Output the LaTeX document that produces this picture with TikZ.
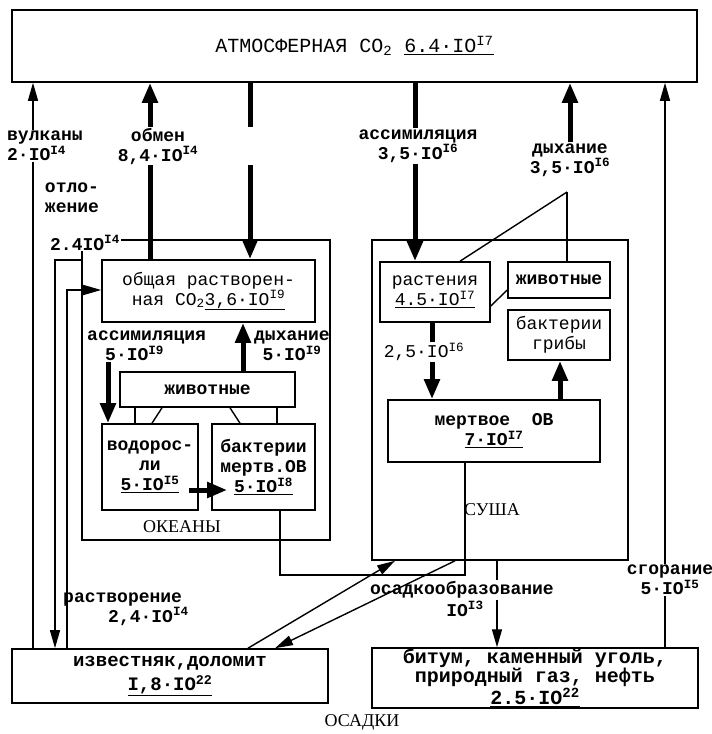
\documentclass[tikz,border=0pt]{standalone}
\usepackage{fontspec}
\setmainfont{Liberation Mono}
\newfontfamily\capfont{Liberation Serif}
\usetikzlibrary{arrows.meta}

\newcommand{\labfont}{\fontsize{18}{20}\selectfont\bfseries}
\newcommand{\ten}[1]{IO\textsuperscript{#1}}

\begin{document}
\begin{tikzpicture}[x=1pt, y=-1pt,
    box/.style={draw, line width=1.6pt, inner sep=1pt, align=center, font=\labfont},
    lab/.style={inner sep=1pt, align=center, font=\labfont},
    ln/.style={line width=1.4pt},
    thinarr/.style={line width=1.4pt, -{Triangle[length=18pt,width=10pt]}},
    fat/.style={line width=5pt},
    fatarr/.style={line width=5pt, -{Triangle[length=20pt,width=15pt]}}
  ]
  \useasboundingbox (0,0) rectangle (712,734);

  % atmosphere
  \node[box, minimum width=685pt, minimum height=72pt, font=\fontsize{20}{22}\selectfont] (atm) at (354.5,46) {АТМОСФЕРНАЯ CO\textsubscript{2} \underline{6.4·\ten{I7}}};

  % upper labels
  \node[lab, align=left] (vulk) at (45,146) {вулканы\\2·\ten{I4}};
  \node[lab] (obmen) at (158,146) {обмен\\8,4·\ten{I4}};
  \node[lab] (asS) at (418,146) {ассимиляция\\3,5·\ten{I6}};
  \node[lab] (dyS) at (570,160) {дыхание\\3,5·\ten{I6}};
  \node[lab] (sgor) at (670,580) {сгорание\\5·\ten{I5}};

  % ocean
  \node[box, minimum width=248pt, minimum height=300pt] (okean) at (206,390) {};
  \node[lab, align=left] (otl) at (72,198) {отло-\\жение};
  \node[lab, fill=white] (otlv) at (85,243) {2.4\ten{I4}};
  \node[box, minimum width=213pt, minimum height=62pt, font=\fontsize{18}{20}\selectfont] (obsh) at (208.5,291) {общая растворен-\\ная CO\textsubscript{2}\underline{3,6·\ten{I9}}};
  \node[lab, align=left, anchor=west] (asO) at (86,346) {ассимиляция\\\hspace*{1em}5·\ten{I9}};
  \node[lab] (dyO) at (292,346) {дыхание\\5·\ten{I9}};
  \node[box, minimum width=175pt, minimum height=35pt] (zhivO) at (207.5,389.5) {животные};
  \node[box, minimum width=96pt, minimum height=86pt] (vodor) at (150,467) {водорос-\\ли\\\underline{5·\ten{I5}}};
  \node[box, minimum width=103pt, minimum height=86pt] (bakO) at (263.5,467) {бактерии\\мертв.ОВ\\\underline{5·\ten{I8}}};
  \node[lab, font=\capfont\fontsize{18}{20}\selectfont] (okl) at (182,527) {ОКЕАНЫ};

  % land
  \node[box, minimum width=256pt, minimum height=320pt] (sush) at (500,400) {};
  \node[box, minimum width=110pt, minimum height=60pt, font=\fontsize{18}{20}\selectfont] (rast) at (435,292) {растения\\\underline{4.5·\ten{I7}}};
  \node[box, minimum width=102pt, minimum height=36pt] (zhivS) at (559,280) {животные};
  \node[box, minimum width=102pt, minimum height=50pt, font=\fontsize{18}{20}\selectfont] (bakS) at (559,335) {бактерии\\грибы};
  \node[lab, font=\fontsize{18}{20}\selectfont] (r2) at (424,352) {2,5·\ten{I6}};
  \node[box, minimum width=212pt, minimum height=62pt] (merO) at (494,431) {мертвое\ \ ОВ\\\underline{7·\ten{I7}}};
  \node[lab, font=\capfont\fontsize{18}{20}\selectfont] (sul) at (492,510) {СУША};

  % sediments
  \node[box, minimum width=316pt, minimum height=54pt, font=\fontsize{19}{21}\selectfont\bfseries] (izv) at (170,676) {известняк,доломит\\[3pt]\underline{I,8·\ten{22}}};
  \node[box, minimum width=326pt, minimum height=48pt, font=\fontsize{20}{19}\selectfont\bfseries] (bitum) at (535,678) {битум, каменный уголь,\\природный газ, нефть\\\underline{2.5·\ten{22}}};
  \node[lab, align=left, anchor=west] (rv) at (62,609) {растворение\\\hspace*{2.5em}2,4·\ten{I4}};
  \node[lab] (os1) at (462,590) {осадкообразование};
  \node[lab] (os2) at (465,609) {\ten{I3}};
  \node[lab, font=\capfont\fontsize{18}{20}\selectfont] (osl) at (362,722) {ОСАДКИ};
  \coordinate (turn) at (465,575);
  \coordinate (dyhpt) at (567,192);

  % exchange with atmosphere
  \draw[thinarr] (vulk.north -| 33,0) -- (atm.south -| 33,0);
  \draw[ln] (izv.north -| 33,0) -- (vulk.south -| 33,0);
  \draw[fatarr] (obmen.north -| 150,0) -- (atm.south -| 150,0);
  \draw[fat] (obsh.north -| 150,0) -- (obmen.south -| 150,0);
  \draw[fat] (atm.south -| 250,0) -- (obmen.north -| 250,0);
  \draw[fatarr] (obmen.south -| 250,0) -- (obsh.north -| 250,0);
  \draw[fat] (atm.south -| 415,0) -- (asS.north -| 415,0);
  \draw[fatarr] (asS.south -| 415,0) -- (rast.north -| 415,0);
  \draw[fatarr] (dyS.north -| 570,0) -- (atm.south -| 570,0);
  \draw[ln] (dyhpt) -- (rast.north -| 460,0);
  \draw[ln] (dyhpt) -- (zhivS.north -| dyhpt);
  \draw[thinarr] (sgor.north -| 665,0) -- (atm.south -| 665,0);
  \draw[ln] (bitum.north -| 665,0) -- (sgor.south -| 665,0);

  % ocean
  \draw[thinarr] (okean.west |- 0,260) -| (izv.north -| 55,0);
  \draw[thinarr] (izv.north -| 67,0) |- (obsh.west |- 0,290);
  \draw[fatarr] (asO.south -| 108,0) -- (vodor.north -| 108,0);
  \draw[fatarr] (zhivO.north -| 243,0) -- (obsh.south -| 243,0);
  \draw[ln] (zhivO.south -| 135,0) -- (vodor.north -| 135,0);
  \draw[ln] (zhivO.south -| 162,0) -- (vodor.north -| 152,0);
  \draw[ln] (zhivO.south -| 230,0) -- (bakO.north -| 240,0);
  \draw[ln] (zhivO.south -| 277,0) -- (bakO.north -| 277,0);
  \draw[fatarr, shorten <=-10pt, shorten >=-16pt] (vodor.east |- 0,490) -- (bakO.west |- 0,490);
  \draw[ln] (bakO.south -| 280,0) |- (turn) -- (merO.south -| turn);

  % land
  \draw[ln] (zhivS.west |- 0,290) -- (rast.east |- 0,306);
  \draw[fat] (rast.south -| 432,0) -- (r2.north -| 432,0);
  \draw[fatarr] (r2.south -| 432,0) -- (merO.north -| 432,0);
  \draw[fatarr] (merO.north -| 560,0) -- (bakS.south -| 560,0);

  % sediments
  \draw[thinarr] (izv.north -| 248,0) -- (sush.south -| 395,0);
  \draw[thinarr] (sush.south -| 455,0) -- (izv.north -| 275,0);
  \draw[ln] (sush.south -| 497,0) -- (os1.north -| 497,0);
  \draw[thinarr] (os1.south -| 497,0) -- (bitum.north -| 497,0);
\end{tikzpicture}
\end{document}
